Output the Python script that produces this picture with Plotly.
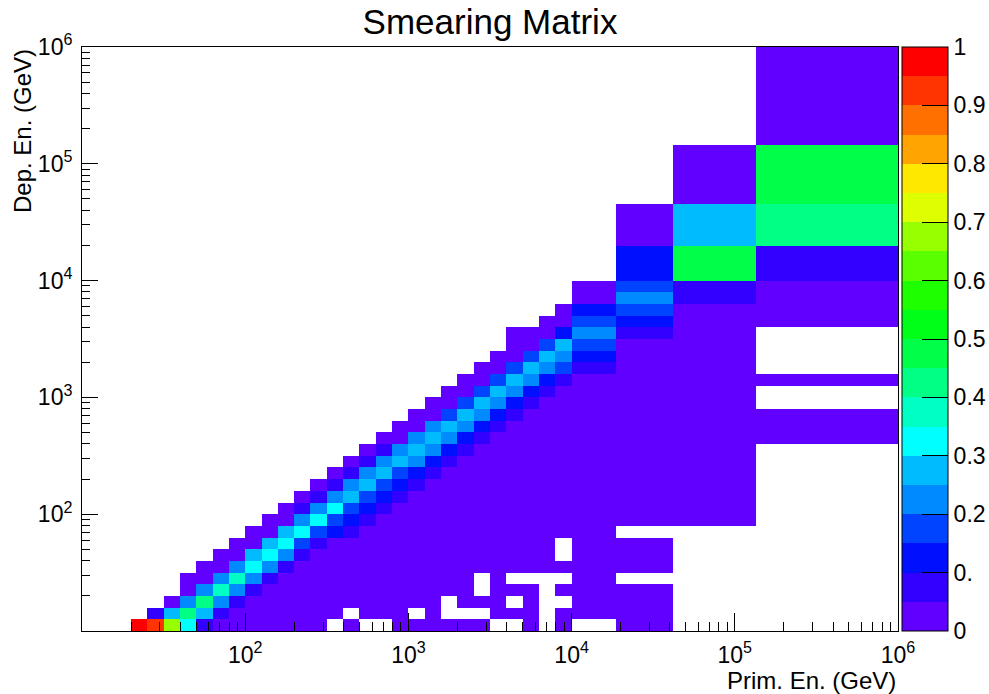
import plotly.graph_objects as go

# ---------------- data ----------------
title_text = "Smearing Matrix"
x_title = "Prim. En. (GeV)"
y_title = "Dep. En. (GeV)"

# bin edges (log10 GeV)
x_edges_log = [1.0, 1.1, 1.2, 1.3, 1.4, 1.5, 1.6, 1.7, 1.8, 1.9, 2.0, 2.1, 2.2, 2.3, 2.4,
               2.5, 2.6, 2.7, 2.8, 2.9, 3.0, 3.1, 3.2, 3.3, 3.4, 3.5, 3.6, 3.7, 3.8, 3.9,
               4.0, 4.27, 4.62, 5.13, 6.0]
y_edges_log = [1.0, 1.1, 1.2, 1.3, 1.4, 1.5, 1.6, 1.7, 1.8, 1.9, 2.0, 2.1, 2.2, 2.3, 2.4,
               2.5, 2.6, 2.7, 2.8, 2.9, 3.0, 3.1, 3.2, 3.3, 3.4, 3.5, 3.6, 3.7, 3.8, 3.9,
               4.0, 4.30, 4.66, 5.16, 6.0]

# column contents: x-bin index -> (first y-bin index, values upward; None = empty)
columns = {
    3: (0, [0.98]),
    4: (0, [0.92, 0.07]),
    5: (0, [0.67, 0.27, 0.03]),
    6: (0, [0.32, 0.42, 0.22, 0.02, 0.02]),
    7: (0, [0.07, 0.27, 0.43, 0.22, 0.02, 0.02]),
    8: (0, [0.02, 0.07, 0.22, 0.37, 0.22, 0.02, 0.02]),
    9: (0, [0.02, 0.02, 0.07, 0.22, 0.37, 0.22, 0.02, 0.02]),
    10: (0, [0.02, 0.02, 0.02, 0.07, 0.22, 0.32, 0.27, 0.02, 0.02]),
    11: (0, [0.02, 0.02, 0.02, 0.02, 0.07, 0.22, 0.32, 0.27, 0.02, 0.02]),
    12: (0, [0.02, 0.02, 0.02, 0.02, 0.02, 0.07, 0.22, 0.32, 0.27, 0.02, 0.02]),
    13: (0, [0.02, 0.02, 0.02, 0.02, 0.02, 0.02, 0.07, 0.17, 0.32, 0.22, 0.07, 0.02]),
    14: (0, [0.02, 0.02, 0.02, 0.02, 0.02, 0.02, 0.02, 0.07, 0.17, 0.32, 0.22, 0.07, 0.02]),
    15: (0, [None, 0.02, 0.02, 0.02, 0.02, 0.02, 0.02, 0.02, 0.12, 0.17, 0.32, 0.22, 0.07, 0.02]),
    16: (0, [0.02, None, 0.02, 0.02, 0.02, 0.02, 0.02, 0.02, 0.07, 0.12, 0.17, 0.27, 0.22, 0.07, 0.02]),
    17: (0, [None, 0.02, 0.02, 0.02, 0.02, 0.02, 0.02, 0.02, 0.02, 0.07, 0.12, 0.17, 0.27, 0.22, 0.07, 0.02]),
    18: (0, [None, 0.02, 0.02, 0.02, 0.02, 0.02, 0.02, 0.02, 0.02, 0.02, 0.07, 0.12, 0.17, 0.27, 0.22, 0.07, 0.02]),
    19: (0, [0.02, 0.02, 0.02, 0.02, 0.02, 0.02, 0.02, 0.02, 0.02, 0.02, 0.02, 0.07, 0.12, 0.17, 0.27, 0.22, 0.02, 0.02]),
    20: (0, [0.02, None, 0.02, 0.02, 0.02, 0.02, 0.02, 0.02, 0.02, 0.02, 0.02, 0.02, 0.07, 0.12, 0.22, 0.27, 0.22, 0.02, 0.02]),
    21: (0, [0.02, 0.02, 0.02, 0.02, 0.02, 0.02, 0.02, 0.02, 0.02, 0.02, 0.02, 0.02, 0.02, 0.07, 0.12, 0.22, 0.27, 0.22, 0.02, 0.02]),
    22: (0, [0.02, None, None, 0.02, 0.02, 0.02, 0.02, 0.02, 0.02, 0.02, 0.02, 0.02, 0.02, 0.02, 0.07, 0.12, 0.22, 0.27, 0.17, 0.02, 0.02]),
    23: (0, [0.02, None, 0.02, 0.02, 0.02, 0.02, 0.02, 0.02, 0.02, 0.02, 0.02, 0.02, 0.02, 0.02, 0.02, 0.07, 0.12, 0.22, 0.27, 0.17, 0.02, 0.02]),
    24: (0, [0.02, None, 0.02, None, None, 0.02, 0.02, 0.02, 0.02, 0.02, 0.02, 0.02, 0.02, 0.02, 0.02, 0.02, 0.07, 0.12, 0.22, 0.27, 0.17, 0.02, 0.02]),
    25: (0, [None, 0.02, 0.02, 0.02, 0.02, 0.02, 0.02, 0.02, 0.02, 0.02, 0.02, 0.02, 0.02, 0.02, 0.02, 0.02, 0.02, 0.07, 0.12, 0.22, 0.27, 0.17, 0.02, 0.02]),
    26: (0, [None, 0.02, None, 0.02, None, 0.02, 0.02, 0.02, 0.02, 0.02, 0.02, 0.02, 0.02, 0.02, 0.02, 0.02, 0.02, 0.02, 0.07, 0.12, 0.22, 0.27, 0.17, 0.02, 0.02, 0.02]),
    27: (0, [0.02, 0.02, 0.02, 0.02, None, 0.02, 0.02, 0.02, 0.02, 0.02, 0.02, 0.02, 0.02, 0.02, 0.02, 0.02, 0.02, 0.02, 0.02, 0.07, 0.12, 0.22, 0.27, 0.17, 0.02, 0.02]),
    28: (0, [None, None, None, None, None, 0.02, 0.02, 0.02, 0.02, 0.02, 0.02, 0.02, 0.02, 0.02, 0.02, 0.02, 0.02, 0.02, 0.02, 0.02, 0.07, 0.12, 0.22, 0.27, 0.17, 0.02, 0.02]),
    29: (0, [0.02, 0.02, None, 0.02, None, 0.02, None, None, 0.02, 0.02, 0.02, 0.02, 0.02, 0.02, 0.02, 0.02, 0.02, 0.02, 0.02, 0.02, 0.02, 0.07, 0.17, 0.22, 0.27, 0.12, 0.02, 0.02]),
    30: (0, [None, 0.02, 0.02, 0.02, 0.02, 0.02, 0.02, 0.02, 0.02, 0.02, 0.02, 0.02, 0.02, 0.02, 0.02, 0.02, 0.02, 0.02, 0.02, 0.02, 0.02, 0.02, 0.07, 0.12, 0.17, 0.22, 0.17, 0.12, 0.02, 0.02]),
    31: (0, [0.02, 0.02, 0.02, 0.02, None, 0.02, 0.02, 0.02, None, 0.02, 0.02, 0.02, 0.02, 0.02, 0.02, 0.02, 0.02, 0.02, 0.02, 0.02, 0.02, 0.02, 0.02, 0.02, 0.02, 0.07, 0.12, 0.17, 0.22, 0.17, 0.12, 0.02]),
    32: (9, [0.02, 0.02, 0.02, 0.02, 0.02, 0.02, 0.02, 0.02, 0.02, 0.02, 0.02, 0.02, 0.02, 0.02, 0.02, 0.02, 0.02, 0.02, 0.02, 0.07, 0.07, 0.47, 0.27, 0.02]),
    33: (16, [0.02, 0.02, 0.02, None, None, 0.02, None, None, None, None, 0.02, 0.02, 0.02, 0.02, 0.07, 0.42, 0.47, 0.02]),
}

x_tick_vals = [1e2, 1e3, 1e4, 1e5, 1e6]
x_tick_text = ["10<sup>2</sup>", "10<sup>3</sup>", "10<sup>4</sup>", "10<sup>5</sup>", "10<sup>6</sup>"]
y_tick_vals = [1e2, 1e3, 1e4, 1e5, 1e6]
y_tick_text = ["10<sup>2</sup>", "10<sup>3</sup>", "10<sup>4</sup>", "10<sup>5</sup>", "10<sup>6</sup>"]
cbar_tick_vals = [0, 0.1, 0.2, 0.3, 0.4, 0.5, 0.6, 0.7, 0.8, 0.9, 1.0]
cbar_tick_text = ["0", "0.", "0.2", "0.3", "0.4", "0.5", "0.6", "0.7", "0.8", "0.9", "1"]

# ---------------- build ----------------
nx = len(x_edges_log) - 1
ny = len(y_edges_log) - 1
z = [[None] * nx for _ in range(ny)]
for i, (j0, vals) in columns.items():
    for k, v in enumerate(vals):
        z[j0 + k][i] = v

x_edges = [10 ** v for v in x_edges_log]
y_edges = [10 ** v for v in y_edges_log]

palette = [
    "rgb(98,0,255)", "rgb(50,0,255)", "rgb(0,16,255)", "rgb(0,68,255)", "rgb(0,138,255)",
    "rgb(0,188,255)", "rgb(0,255,255)", "rgb(0,255,196)", "rgb(0,255,132)", "rgb(0,255,72)",
    "rgb(0,255,24)", "rgb(30,255,0)", "rgb(90,255,0)", "rgb(150,255,0)", "rgb(222,255,0)",
    "rgb(255,232,0)", "rgb(255,164,0)", "rgb(255,112,0)", "rgb(255,52,0)", "rgb(255,0,0)",
]
colorscale = []
n = len(palette)
for k, c in enumerate(palette):
    colorscale.append([k / n, c])
    colorscale.append([(k + 1) / n, c])

minor_vals = [m * 10 ** d for d in range(1, 6) for m in range(2, 10)]

FONT = "Liberation Sans, Arial, Helvetica, sans-serif"

fig = go.Figure()
fig.add_trace(go.Heatmap(
    x=x_edges, y=y_edges, z=z,
    zmin=0, zmax=1, zsmooth=False,
    colorscale=colorscale,
    hoverinfo="skip",
    colorbar=dict(
        x=(902 - 82) / 816, xanchor="left", xpad=0,
        y=0, yanchor="bottom", len=1, lenmode="fraction", ypad=0,
        thickness=46, thicknessmode="pixels",
        outlinecolor="black", outlinewidth=1,
        tickmode="array", tickvals=cbar_tick_vals, ticktext=cbar_tick_text,
        ticks="inside", ticklen=26, tickcolor="black", tickwidth=1,
        tickfont=dict(family=FONT, size=23, color="black"),
    ),
))

axis_common = dict(
    type="log", range=[1, 6], showgrid=False, zeroline=False,
    showline=True, linecolor="black", linewidth=1, mirror=True,
    ticks="inside", tickcolor="black", tickwidth=1,
    tickmode="array",
    tickfont=dict(family=FONT, size=23, color="black"),
)

fig.update_layout(
    width=989, height=694,
    margin=dict(l=82, r=91, t=47, b=63, pad=0, autoexpand=False),
    paper_bgcolor="white", plot_bgcolor="white",
    title=dict(text=title_text, x=0.5, xref="paper", xanchor="center",
               y=1 - 22 / 694, yref="container", yanchor="middle",
               font=dict(family=FONT, size=35, color="black")),
    xaxis=dict(axis_common, tickvals=x_tick_vals, ticktext=x_tick_text, ticklen=18,
               ticklabelstandoff=3,
               minor=dict(ticks="inside", ticklen=9, tickcolor="black", tickmode="array",
                          tickvals=minor_vals, showgrid=False)),
    yaxis=dict(axis_common, tickvals=y_tick_vals, ticktext=y_tick_text, ticklen=16,
               ticklabelstandoff=4,
               minor=dict(ticks="inside", ticklen=8, tickcolor="black", tickmode="array",
                          tickvals=minor_vals, showgrid=False)),
    annotations=[
        dict(text=x_title, xref="paper", yref="paper", x=1.0, y=(631 - 680) / 584,
             xanchor="right", yanchor="middle", showarrow=False,
             font=dict(family=FONT, size=24, color="black")),
        dict(text=y_title, xref="paper", yref="paper", x=(22 - 82) / 816, y=1.0,
             xanchor="center", yanchor="top", textangle=-90, showarrow=False,
             font=dict(family=FONT, size=24, color="black")),
    ],
)

fig.write_html("out.html")
